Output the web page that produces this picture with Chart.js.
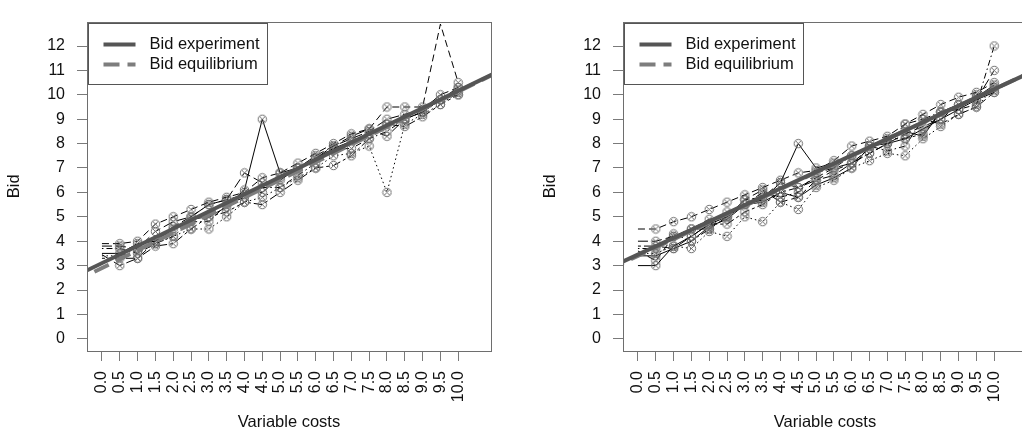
<!DOCTYPE html>
<html><head><meta charset="utf-8">
<script src="https://cdn.jsdelivr.net/npm/chart.js@4.4.1/dist/chart.umd.min.js"></script>
<style>
html,body{margin:0;padding:0;background:#fff;overflow:hidden;}
#wrap{position:relative;width:1022px;height:434px;overflow:hidden;background:#fff;}
.panel{position:absolute;top:0;width:535px;height:434px;}
</style></head><body>
<div id="wrap">
<div class="panel" style="left:0px"><canvas id="c1" width="535" height="434"></canvas></div>
<div class="panel" style="left:536px"><canvas id="c2" width="535" height="434"></canvas></div>
</div>
<script>
// ---- data ----
const costs = [0,0.5,1,1.5,2,2.5,3,3.5,4,4.5,5,5.5,6,6.5,7,7.5,8,8.5,9,9.5,10];
const costLabels = ["0.0","0.5","1.0","1.5","2.0","2.5","3.0","3.5","4.0","4.5","5.0","5.5","6.0","6.5","7.0","7.5","8.0","8.5","9.0","9.5","10.0"];
const bidTicks = [0,1,2,3,4,5,6,7,8,9,10,11,12];
const legendLabels = ["Bid experiment","Bid equilibrium"];

// left panel: bids per subject group
const left1 = [3.5,3.5,3.9,4.0,4.5,4.9,5.0,5.4,6.1,9.0,6.8,7.0,7.4,7.8,8.1,8.4,8.8,9.0,9.3,9.8,10.2];
const left2 = [3.4,3.4,3.6,3.9,4.2,4.5,4.5,5.0,5.6,5.8,6.2,6.6,7.0,7.5,7.6,7.9,6.0,8.8,9.2,9.6,10.1];
const left3 = [3.9,3.9,4.0,4.7,5.0,5.3,5.6,5.8,6.0,6.6,6.8,7.2,7.6,8.0,8.4,8.6,9.5,9.5,9.5,12.9,10.5];
const left4 = [3.8,3.8,3.7,4.4,4.8,5.0,5.5,5.7,6.8,6.4,6.5,7.0,7.5,7.9,8.2,8.5,9.0,9.2,9.4,10.0,10.3];
const left5 = [3.7,3.7,3.5,3.9,4.2,4.8,4.8,5.5,5.8,6.2,6.2,6.7,7.2,7.8,7.8,8.2,8.5,9.0,9.3,9.8,10.0];
const left6 = [3.3,3.3,3.3,3.8,3.9,4.5,5.0,5.2,5.6,5.5,6.0,6.5,7.0,7.1,7.5,8.2,8.8,8.7,9.1,9.6,10.0];
const left7 = [3.45,3.0,3.3,4.0,4.6,5.0,5.5,5.7,5.9,6.0,6.6,7.0,7.4,7.9,8.3,8.6,8.3,9.0,9.3,9.8,10.3];

// right panel
const right1 = [3.0,3.0,3.8,4.2,4.7,5.0,5.5,5.7,6.4,8.0,7.0,7.2,7.5,7.9,8.0,8.2,8.6,9.0,9.4,9.8,10.1];
const right2 = [4.5,4.5,4.8,5.0,5.3,5.6,5.9,6.2,6.5,6.8,6.9,7.3,7.9,8.1,8.3,8.8,9.2,9.6,9.9,10.1,10.5];
const right3 = [3.7,3.7,4.3,4.0,4.5,5.2,5.5,6.0,5.8,6.0,6.8,7.0,7.5,7.9,7.7,7.9,9.0,9.3,9.4,9.6,12.0];
const right4 = [4.0,4.0,4.2,4.5,4.9,5.0,5.7,5.8,6.4,6.2,6.6,7.0,7.2,7.6,8.0,8.4,8.7,9.0,9.6,9.8,11.0];
const right5 = [3.5,3.5,3.8,3.7,4.4,4.2,5.0,4.8,5.6,5.3,6.2,6.5,7.0,7.3,7.6,7.5,8.2,8.7,9.2,9.5,10.3];
const right6 = [3.8,3.8,3.7,4.2,4.7,4.7,5.2,5.5,6.0,6.2,6.5,6.7,7.2,7.8,8.2,8.2,8.4,9.3,9.4,10.0,10.2];
const right7 = [3.6,3.2,4.2,4.5,4.5,5.0,5.7,6.1,5.6,5.8,6.5,6.9,7.2,7.6,8.0,8.8,9.0,8.8,9.2,9.5,10.1];
const right8 = [3.4,3.4,3.7,4.0,4.6,4.9,5.5,5.6,6.0,5.8,6.3,6.6,7.0,7.9,8.1,8.5,8.3,9.3,9.6,9.9,10.4];

// fitted lines [intercept, slope]
const leftExperiment = [3.10, 0.706];
const leftEquilibrium = [2.90, 0.723];
const rightExperiment = [3.45, 0.678];
const rightEquilibrium = [3.40, 0.683];

// ---- rendering ----
const FONT = {family:"'Liberation Sans', Arial, sans-serif", size:16};
const TITLE_FONT = {family:"'Liberation Sans', Arial, sans-serif", size:16.5};
const DASH = {
  solid:[], dashed:[7,4], dotted:[1.5,3], dotdash:[1.5,3,6,3], longdash:[10,4], twodash:[3,3,9,3]
};
const leftStyles = ['solid','dotted','dashed','longdash','dotdash','twodash','longdash'];
const rightStyles = ['solid','dashed','dotdash','longdash','dotted','twodash','dashed','solid'];

function makeMarker(){
  const c = document.createElement('canvas');
  c.width = 11; c.height = 11;
  const g = c.getContext('2d');
  g.strokeStyle = '#707070'; g.lineWidth = 1;
  g.beginPath(); g.arc(5.5,5.5,4.2,0,Math.PI*2); g.stroke();
  const d = 4.2*Math.SQRT1_2;
  g.beginPath();
  g.moveTo(5.5-d,5.5-d); g.lineTo(5.5+d,5.5+d);
  g.moveTo(5.5+d,5.5-d); g.lineTo(5.5-d,5.5+d);
  g.stroke();
  return c;
}
const marker = makeMarker();

const X_MIN = -0.42, X_MAX = 10.92, Y_MIN = -0.5, Y_MAX = 13;

function fitLine(p){
  return [X_MIN-1, X_MAX+1].map(x => ({x:x, y:p[0]+p[1]*x}));
}

const boxPlugin = {
  id:'boxLegend',
  afterDraw(chart){
    const ctx = chart.ctx, a = chart.chartArea;
    ctx.save();
    ctx.strokeStyle = '#6e6e6e'; ctx.lineWidth = 1;
    ctx.strokeRect(Math.round(a.left)+0.5, Math.round(a.top)+0.5, Math.round(a.right-a.left), Math.round(a.bottom-a.top));
    // legend
    const bx = Math.round(a.left)+1.5, by = Math.round(a.top)+1.5;
    ctx.fillStyle = '#fff';
    ctx.fillRect(bx, by, 179, 61);
    ctx.strokeStyle = '#555';
    ctx.strokeRect(bx, by, 179, 61);
    ctx.lineWidth = 4;
    ctx.strokeStyle = '#555';
    ctx.beginPath(); ctx.moveTo(bx+15, by+21); ctx.lineTo(bx+47, by+21); ctx.stroke();
    ctx.strokeStyle = '#7d7d7d';
    ctx.setLineDash([16,8]);
    ctx.beginPath(); ctx.moveTo(bx+15, by+41); ctx.lineTo(bx+47, by+41); ctx.stroke();
    ctx.setLineDash([]);
    ctx.fillStyle = '#111';
    ctx.font = "16.5px 'Liberation Sans', Arial, sans-serif";
    ctx.textBaseline = 'middle'; ctx.textAlign = 'left';
    ctx.fillText(legendLabels[0], bx+61, by+21);
    ctx.fillText(legendLabels[1], bx+61, by+41);
    ctx.restore();
  }
};

function makeChart(id, series, styles, expP, eqP){
  const datasets = [
    {label:legendLabels[0], data:fitLine(expP), borderColor:'#555', borderWidth:4, pointRadius:0, clip:0, order:0},
    {label:legendLabels[1], data:fitLine(eqP), borderColor:'#7d7d7d', borderWidth:4, borderDash:[16,8], pointRadius:0, clip:0, order:1}
  ];
  series.forEach((s,i) => {
    datasets.push({
      data: costs.map((c,j) => ({x:c, y:s[j]})),
      borderColor:'#000', borderWidth:1, borderDash:DASH[styles[i]],
      pointStyle: marker,
      pointRadius: ctx => (ctx.raw && (ctx.raw.x === 0 || ctx.raw.y > 12.5)) ? 0 : 4,
      pointHoverRadius: 0,
      tension:0, order:2+i, clip:0
    });
  });
  return new Chart(document.getElementById(id), {
    type:'line',
    data:{datasets},
    plugins:[boxPlugin],
    options:{
      responsive:false, animation:false, devicePixelRatio:1,
      layout:{padding:{left:0, right:44, top:7, bottom:0}},
      plugins:{legend:{display:false}, tooltip:{enabled:false}},
      events:[],
      scales:{
        x:{type:'linear', min:X_MIN, max:X_MAX,
          afterBuildTicks: s => { s.ticks = costs.map(v => ({value:v})); },
          afterFit: s => { s.height = 83; },
          ticks:{autoSkip:false, minRotation:90, maxRotation:90, padding:10, color:'#111', font:FONT,
                 callback:(v,i) => costLabels[i]},
          grid:{drawOnChartArea:false, drawTicks:true, tickLength:10, color:'#7a7a7a', lineWidth:1},
          border:{display:false},
          title:{display:true, text:'Variable costs', color:'#111', font:TITLE_FONT, padding:{top:0,bottom:2}}
        },
        y:{type:'linear', min:Y_MIN, max:Y_MAX,
          afterBuildTicks: s => { s.ticks = bidTicks.map(v => ({value:v})); },
          afterFit: s => { s.width = 87; },
          ticks:{padding:12, color:'#111', font:FONT, callback:v => String(v)},
          grid:{drawOnChartArea:false, drawTicks:true, tickLength:10, color:'#7a7a7a', lineWidth:1},
          border:{display:false},
          title:{display:true, text:'Bid', color:'#111', font:TITLE_FONT, padding:{top:5,bottom:0}}
        }
      }
    }
  });
}

makeChart('c1', [left1,left2,left3,left4,left5,left6,left7], leftStyles, leftExperiment, leftEquilibrium);
makeChart('c2', [right1,right2,right3,right4,right5,right6,right7,right8], rightStyles, rightExperiment, rightEquilibrium);
</script>
</body></html>
